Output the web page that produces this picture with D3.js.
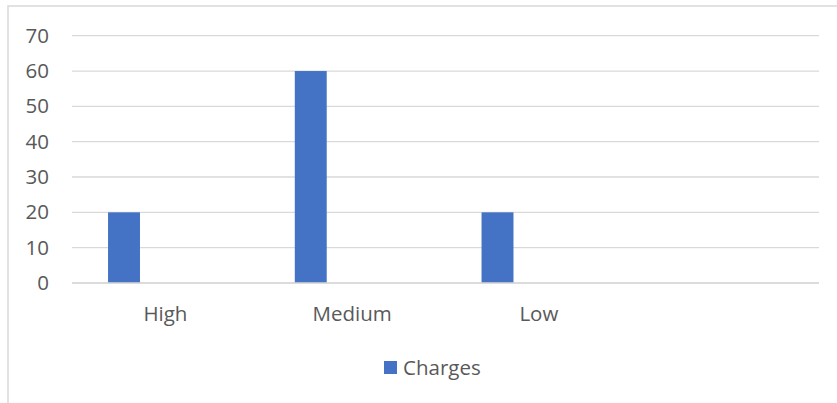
<!DOCTYPE html>
<html>
<head>
<meta charset="utf-8">
<script src="https://cdn.jsdelivr.net/npm/d3@7"></script>
<style>
  html, body { margin: 0; padding: 0; background: #ffffff; }
  svg { display: block; }
  text { font-family: "Open Sans", "Noto Sans", sans-serif; fill: #595959; }
</style>
</head>
<body>
<svg id="chart" width="837" height="403"></svg>
<script>
const categories = ["High", "Medium", "Low", ""];
const charges = [20, 60, 20, null];
const seriesName = "Charges";
const yTicks = [0, 10, 20, 30, 40, 50, 60, 70];

const W = 837, H = 403;
const FS = "20.5px";
const svg = d3.select("#chart");

// chart area border (left and top visible)
svg.append("rect")
  .attr("x", 8).attr("y", 6)
  .attr("width", W + 10).attr("height", H + 10)
  .attr("fill", "#ffffff")
  .attr("stroke", "#d9d9d9")
  .attr("stroke-width", 1.5);

const plot = { left: 72, right: 819, top: 35.7, bottom: 283 };

const x = d3.scaleBand()
  .domain(categories)
  .range([plot.left, plot.right])
  .paddingInner(0).paddingOuter(0);

const y = d3.scaleLinear()
  .domain([0, 70])
  .range([plot.bottom, plot.top]);

// gridlines
svg.append("g")
  .selectAll("line")
  .data(yTicks)
  .join("line")
  .attr("x1", plot.left).attr("x2", plot.right)
  .attr("y1", d => y(d)).attr("y2", d => y(d))
  .attr("stroke", "#d9d9d9")
  .attr("stroke-width", 1.3);

// y tick labels via axis
const yAxis = svg.append("g")
  .attr("transform", `translate(${plot.left},0)`)
  .call(d3.axisLeft(y).tickValues(yTicks).tickSize(0).tickPadding(23).tickFormat(d3.format("d")));
yAxis.select(".domain").remove();
yAxis.selectAll("text")
  .attr("font-size", FS)
  .attr("fill", "#595959")
  .style("font-family", "'Open Sans', sans-serif");

// bars
const barOffset = x.step() * 0.193;
const barWidth = x.step() * 0.171;
svg.append("g")
  .selectAll("rect")
  .data(categories.map((c, i) => ({ c, v: charges[i] })).filter(d => d.v != null))
  .join("rect")
  .attr("x", d => x(d.c) + barOffset)
  .attr("width", barWidth)
  .attr("y", d => y(d.v))
  .attr("height", d => y(0) - y(d.v))
  .attr("fill", "#4472c4");

// category axis line on top of bars
svg.append("line")
  .attr("x1", plot.left).attr("x2", plot.right)
  .attr("y1", y(0)).attr("y2", y(0))
  .attr("stroke", "#d9d9d9")
  .attr("stroke-width", 1.5);

// x labels via axis
const xAxis = svg.append("g")
  .attr("transform", `translate(0,${plot.bottom})`)
  .call(d3.axisBottom(x).tickSize(0).tickPadding(23));
xAxis.select(".domain").remove();
xAxis.selectAll("text")
  .attr("font-size", FS)
  .attr("fill", "#595959")
  .style("font-family", "'Open Sans', sans-serif");

// legend
const legend = svg.append("g").attr("transform", "translate(384,361)");
legend.append("rect")
  .attr("width", 13).attr("height", 13)
  .attr("fill", "#4472c4");
legend.append("text")
  .attr("x", 19).attr("y", 14)
  .attr("font-size", FS)
  .text(seriesName);
</script>
</body>
</html>
